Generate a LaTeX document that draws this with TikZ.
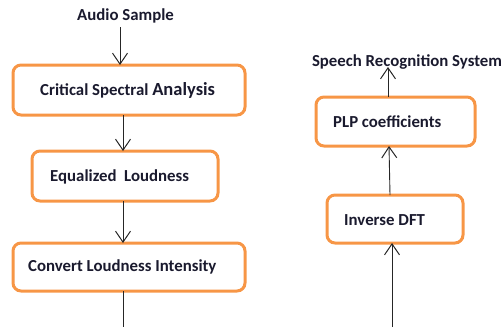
\documentclass[tikz,border=0pt]{standalone}
\usepackage{fontspec}
\setmainfont{Carlito}
\usetikzlibrary{arrows.meta}
\definecolor{boxorange}{HTML}{F79646}
\definecolor{inkdark}{HTML}{1A1A2E}
\tikzset{
  stage/.style={draw=boxorange, line width=3pt, rounded corners=8pt, fill=white, inner sep=0pt},
  lbl/.style={font=\fontsize{16.8}{19}\selectfont\bfseries, text=inkdark, inner sep=0pt},
  flow/.style={draw=black!85, line width=0.9pt, -{Straight Barb[length=11pt,width=15pt,line width=1pt]}},
  plain/.style={draw=black!85, line width=0.9pt}
}
\begin{document}
\begin{tikzpicture}[x=1pt,y=-1pt]
  \useasboundingbox (0,0) rectangle (502,327);
  % left column
  \node[lbl] (audio) at (125.5,16) {Audio Sample};
  \node[stage, minimum width=232pt, minimum height=50pt] (csa) at (129,90) {};
  \node[lbl, anchor=west] at (40,90) {Critical Spectral \fontsize{18.5}{20}\selectfont Analysis};
  \node[stage, minimum width=186pt, minimum height=50pt] (eql) at (125,176) {};
  \node[lbl, anchor=west] at (50,177) {Equalized\ \ Loudness};
  \node[stage, minimum width=232pt, minimum height=48pt] (cli) at (129,267) {};
  \node[lbl, anchor=west] at (28,267) {Convert Loudness Intensity};
  \coordinate (lend) at (123,327);
  % right column
  \node[lbl] (srs) at (407,62) {Speech Recognition System};
  \node[stage, minimum width=159pt, minimum height=49pt] (plp) at (395.5,121.5) {};
  \node[lbl, anchor=west] at (333,122) {PLP coefficients};
  \node[stage, minimum width=136pt, minimum height=48pt] (idft) at (395,219) {};
  \node[lbl, anchor=west] at (344,220) {Inverse DFT};
  \coordinate (rstart) at (392,327);
  % connectors
  \draw[flow] (audio.south -| 120,0) ++(0,4) -- (120,65);
  \draw[flow] (123,115) -- (123,151);
  \draw[flow] (123,201) -- (123,243);
  \draw[plain] (123,291) -- (lend);
  \draw[flow] (rstart) -- (392,243);
  \draw[flow] (390,195) -- (389,146);
  \draw[flow] (388,97) -- (388,67);
\end{tikzpicture}
\end{document}
